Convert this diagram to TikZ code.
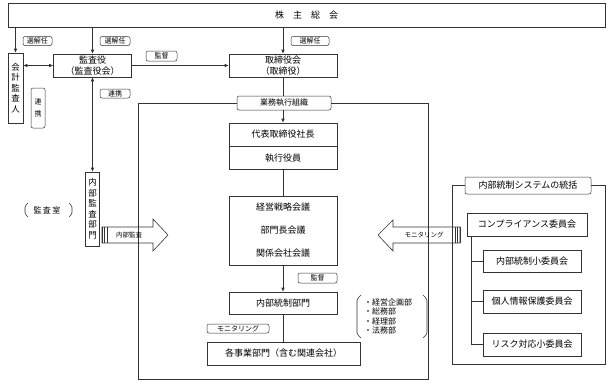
\documentclass[tikz,border=0pt]{standalone}
\usepackage{fontspec}
\setmainfont{Noto Sans CJK JP}
\usepackage{tikz}
\usetikzlibrary{arrows.meta,calc}

\tikzset{
  box/.style={draw=black!80, line width=0.6pt, inner sep=0pt, align=center,
              font=\fontsize{9}{11}\selectfont},
  tag/.style={draw=black!80, line width=0.5pt, rounded corners=2pt, inner sep=0pt,
              align=center, font=\fontsize{7}{12}\selectfont},
  vtext/.style={align=center, font=\fontsize{8.5}{10.5}\selectfont},
  conn/.style={draw=black!80, line width=0.6pt},
  arr/.style={conn, -{Latex[length=4pt,width=3.5pt]}},
  darr/.style={conn, {Latex[length=4pt,width=3.5pt]}-{Latex[length=4pt,width=3.5pt]}},
}

\begin{document}
\begin{tikzpicture}[x=1pt,y=-1pt]
  \useasboundingbox (0,0) rectangle (613,384);
  % --- shareholders ---
  \node[box,line width=0.8pt,minimum width=597,minimum height=24] (kabu) at (306.5,15)
       {株\hspace{9pt}主\hspace{9pt}総\hspace{9pt}会};
  % --- auditors and board ---
  \node[box,vtext,minimum width=15,minimum height=70] (kaikei) at (15.5,88) {会\\計\\監\\査\\人};
  \node[box,minimum width=78,minimum height=23] (kansa) at (92.5,65.5) {監査役\\（監査役会）};
  \node[box,minimum width=108,minimum height=23] (tori) at (283,65.5) {取締役会\\（取締役）};
  \draw[arr] (kabu.south -| kaikei) -- (kaikei);
  \draw[arr] (kabu.south -| kansa) -- (kansa);
  \draw[arr] (kabu.south -| tori) -- (tori);
  \draw[darr] (kaikei.east |- kansa.west) -- (kansa.west);
  \draw[arr] (kansa) -- (tori);
  \node[tag,minimum width=29,minimum height=9] (sen1) at (37.5,41) {選解任};
  \node[tag,minimum width=30,minimum height=9] (sen2) at (115,41) {選解任};
  \node[tag,minimum width=38,minimum height=9] (sen3) at (310,41) {選解任};
  \node[tag,minimum width=31,minimum height=10] (kantoku1) at (161.5,56) {監督};
  \node[tag,minimum width=30,minimum height=9] (renkei1) at (115,93.5) {連携};
  \node[tag,minimum width=14,minimum height=40] (renkei2) at (38,108) {連\\携};
  % --- internal audit ---
  \node[box,vtext,minimum width=14,minimum height=74] (naibu) at (92.5,209) {内\\部\\監\\査\\部\\門};
  \draw[darr] (kansa) -- (naibu);
  \node[font=\fontsize{8}{10}\selectfont] (shitsu) at (47,210) {監\,査\,室};
  \draw[conn,rounded corners=1.5pt] (28,203) -- (25,206) -- (25,214) -- (28,217);
  \draw[conn,rounded corners=1.5pt] (69,203) -- (72,206) -- (72,214) -- (69,217);
  % --- business execution ---
  \node[tag,fill=white,minimum width=94,minimum height=14,font=\fontsize{8}{9}\selectfont]
       (gyomu) at (284,103) {業務執行組織};
  \draw[conn,line width=0.8pt] (gyomu.west) -| (138,379) -| (428,103) -- (gyomu.east);
  \node[box,minimum width=108,minimum height=23] (daihyo) at (283,134.5) {代表取締役社長};
  \node[box,minimum width=108,minimum height=23,anchor=north] (shikko) at (daihyo.south) {執行役員};
  \node[box,minimum width=108,minimum height=69,font=\fontsize{9}{23}\selectfont]
       (senryaku) at (283,230.5) {経営戦略会議\\部門長会議\\関係会社会議};
  \node[box,minimum width=108,minimum height=22] (tosei) at (283,303) {内部統制部門};
  \node[box,minimum width=153,minimum height=23] (jigyo) at (283.5,353.5) {各事業部門（含む関連会社）};
  \draw[conn] (tori.south) -- (tori.south |- gyomu.north);
  \draw[arr] (tori.south |- gyomu.south) -- (daihyo);
  \draw[conn] (shikko) -- (senryaku);
  \draw[arr] (senryaku) -- (tosei);
  \draw[conn] (tosei) -- (tosei |- jigyo.north);
  \node[tag,minimum width=39,minimum height=10] (kantoku2) at (317.5,278) {監督};
  \node[tag,minimum width=62,minimum height=9] (moni) at (238,328.5) {モニタリング};
  \node[align=left,inner sep=0pt,font=\fontsize{8}{9.6}\selectfont] (bumon) at (388,316.5)
       {・経営企画部\\・総務部\\・経理部\\・法務部};
  \draw[conn,rounded corners=1.5pt] (361,295) -- (357,299) -- (357,334) -- (361,338);
  \draw[conn,rounded corners=1.5pt] (423,295) -- (427,299) -- (427,334) -- (423,338);
  % --- internal control system ---
  \node[tag,fill=white,minimum width=126,minimum height=17,font=\fontsize{9}{10}\selectfont]
       (tgroup) at (528,185.5) {内部統制システムの統括};
  \draw[conn,line width=0.8pt] (tgroup.west) -| (452,364) -| (605,185.5) -- (tgroup.east);
  \node[box,minimum width=120,minimum height=23] (comp) at (527,224.5) {コンプライアンス委員会};
  \node[box,minimum width=98,minimum height=22] (sub1) at (532,261) {内部統制小委員会};
  \node[box,minimum width=98,minimum height=23] (sub2) at (532,301.5) {個人情報保護委員会};
  \node[box,minimum width=98,minimum height=23] (sub3) at (532,344.5) {リスク対応小委員会};
  \coordinate (trunk) at ([xshift=5]comp.south west);
  \draw[conn] (trunk) |- (sub3.west);
  \foreach \s in {sub1,sub2} \draw[conn] (\s.west) -- (\s.west -| trunk);
  % --- block arrows ---
  \draw[conn] (102,227) -- (153,227) -- (153,219) -- (168,235) -- (153,251) -- (153,243)
              -- (102,243) -- cycle;
  \foreach \x in {102,104.5,107} \draw[conn,line width=1pt] (\x,227) -- (\x,243);
  \node[font=\fontsize{6.5}{8}\selectfont] (audit) at (129,235) {内部監査};
  \draw[conn] (460,227) -- (393,227) -- (393,220) -- (378,235) -- (393,251) -- (393,243)
              -- (460,243) -- cycle;
  \foreach \x in {455,457.5,460} \draw[conn,line width=1pt] (\x,227) -- (\x,243);
  \node[font=\fontsize{6.5}{8}\selectfont] (monitor) at (424,235) {モニタリング};
\end{tikzpicture}
\end{document}
